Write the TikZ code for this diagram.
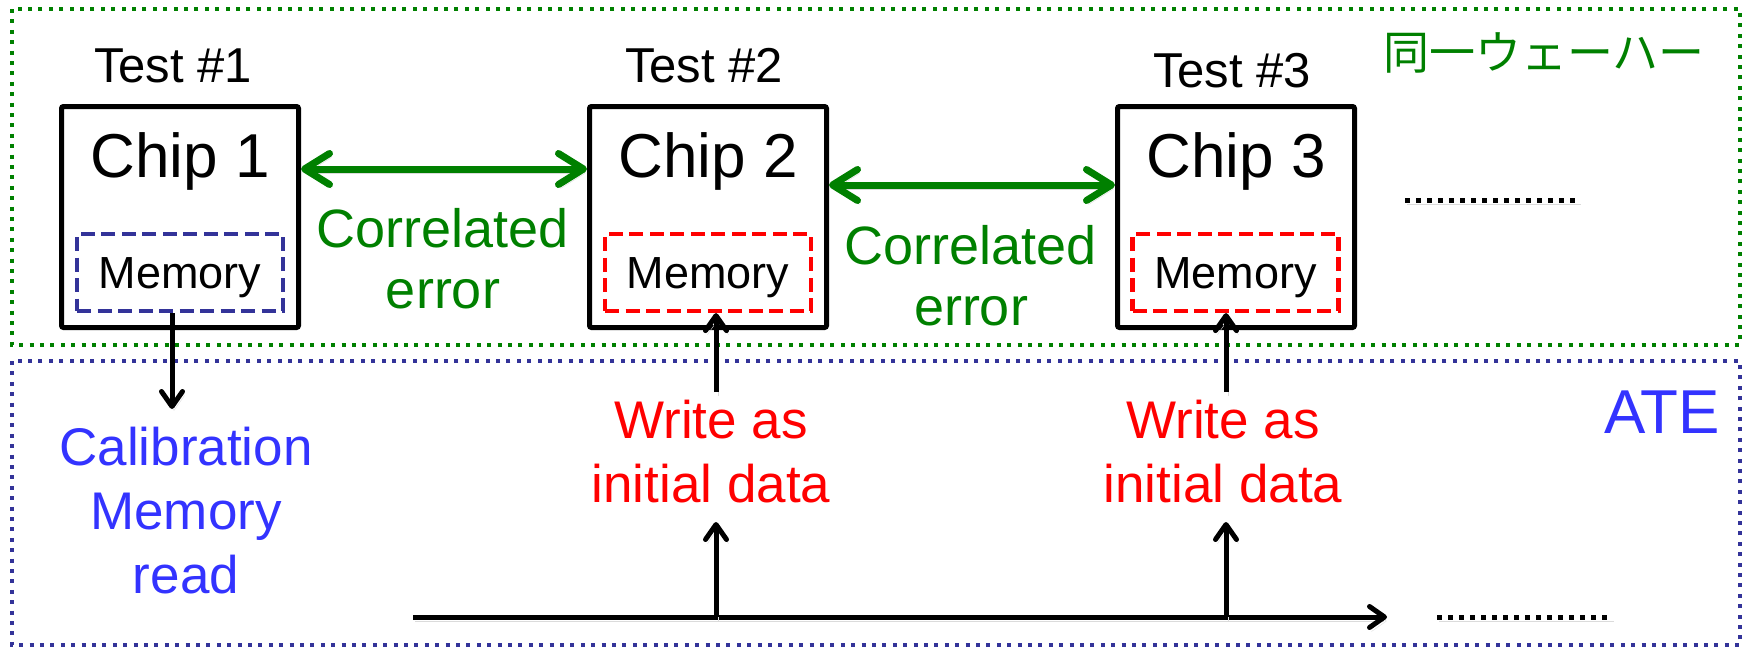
\documentclass[tikz,border=0pt]{standalone}
\usepackage{fontspec}
\setmainfont{Liberation Sans}
\newfontfamily\jpfont{Noto Sans CJK JP}
\usetikzlibrary{arrows.meta,calc}
\definecolor{wgreen}{RGB}{0,128,0}
\definecolor{ateblue}{RGB}{51,51,255}
\definecolor{navyb}{RGB}{51,51,153}
\definecolor{rred}{RGB}{255,0,0}
\tikzset{
  regionbox/.style={line width=4pt, dash pattern=on 4pt off 6.4pt},
  chip/.style={draw, line width=5pt, minimum width=237pt, minimum height=221pt, rounded corners=2pt, inner sep=0pt},
  mem/.style={draw=#1, line width=4.2pt, dash pattern=on 14pt off 6.5pt, minimum width=206pt, minimum height=77pt, inner sep=0pt,
     text height=31pt, text depth=0pt, font=\fontsize{45}{54}\selectfont},
  chiptxt/.style={anchor=base, font=\fontsize{62}{74}\selectfont},
  testtxt/.style={anchor=base, font=\fontsize{49}{58}\selectfont},
  corrtxt/.style={anchor=base, align=center, text=wgreen, font=\fontsize{54}{61}\selectfont},
  caltxt/.style={anchor=base, align=center, text=ateblue, font=\fontsize{53}{64}\selectfont},
  wrtxt/.style={anchor=base, align=center, text=rred, font=\fontsize{53}{64}\selectfont},
  softshadow/.style={preaction={draw=black!14, transform canvas={shift={(2pt,-4pt)}}}},
  garrow/.style={softshadow, draw=wgreen, line width=7pt, {Straight Barb[length=25pt,width=31pt,line width=7pt,round]}-{Straight Barb[length=25pt,width=31pt,line width=7pt,round]}},
  blk/.style={softshadow, draw=black, line width=5pt, -{Straight Barb[length=15pt,width=21pt,line width=5pt,round]}},
  dotline/.style={softshadow, draw=black, line width=5pt, dash pattern=on 5pt off 6pt},
}
\begin{document}
\begin{tikzpicture}[x=1pt,y=-1pt]
\useasboundingbox (0,0) rectangle (1748,648);
% regions
\draw[regionbox, draw=wgreen] (12,9) rectangle (1740,345);
\draw[regionbox, draw=navyb] (12,361) rectangle (1740,645);
\node[anchor=base, text=wgreen, font=\jpfont\fontsize{46}{54}\selectfont] (jp) at (1544,69) {同一ウェーハー};
\node[anchor=base, text=ateblue, font=\fontsize{62}{74}\selectfont] (ate) at (1662,433) {ATE};

% chips
\node[chip] (c1) at (180,217) {};
\node[chip] (c2) at (708,217) {};
\node[chip] (c3) at (1236,217) {};
\node[chiptxt] (ct1) at (180,177) {Chip 1};
\node[chiptxt] (ct2) at (708,177) {Chip 2};
\node[chiptxt] (ct3) at (1236,177) {Chip 3};
\node[testtxt] (t1) at (173,82) {Test \#1};
\node[testtxt] (t2) at (704,82) {Test \#2};
\node[testtxt] (t3) at (1232,87) {Test \#3};
\node[mem=navyb] (m1) at (180,272.5) {Memory};
\node[mem=rred] (m2) at (708,272.5) {Memory};
\node[mem=rred] (m3) at (1235.5,272.5) {Memory};

% correlated error
\coordinate (g1) at (0,169);
\coordinate (g2) at (0,185);
\draw[garrow] (c1.east |- g1) -- (c2.west |- g1);
\draw[garrow] (c2.east |- g2) -- (c3.west |- g2);
\node[corrtxt] (e1) at (443,308) {Correlated\\error};
\node[corrtxt] (e2) at (971,325) {Correlated\\error};
\draw[dotline] (1405,200) -- (1579,200);

% ATE side
\node[caltxt] (cal) at (186,593) {Calibration\\Memory\\read};
\coordinate (r1) at (172,409);
\draw[blk] (m1.south -| r1) -- (r1);

\node[wrtxt] (w2) at (711,502) {Write as\\initial data};
\node[wrtxt] (w3) at (1223,502) {Write as\\initial data};
\coordinate (u2) at (716,392);
\coordinate (u3) at (1226,392);
\draw[blk] (u2) -- (m2.south -| u2);
\draw[blk] (u3) -- (m3.south -| u3);

\coordinate (ax0) at (413,617);
\coordinate (ax1) at (1387,617);
\draw[blk] (ax0) -- (ax1);
\coordinate (b2) at (716,617);
\coordinate (b3) at (1226,617);
\coordinate (b2t) at (716,522);
\coordinate (b3t) at (1226,522);
\draw[blk] (b2) -- (b2t);
\draw[blk] (b3) -- (b3t);
\draw[dotline] (1437,617) -- (1612,617);
\end{tikzpicture}
\end{document}
